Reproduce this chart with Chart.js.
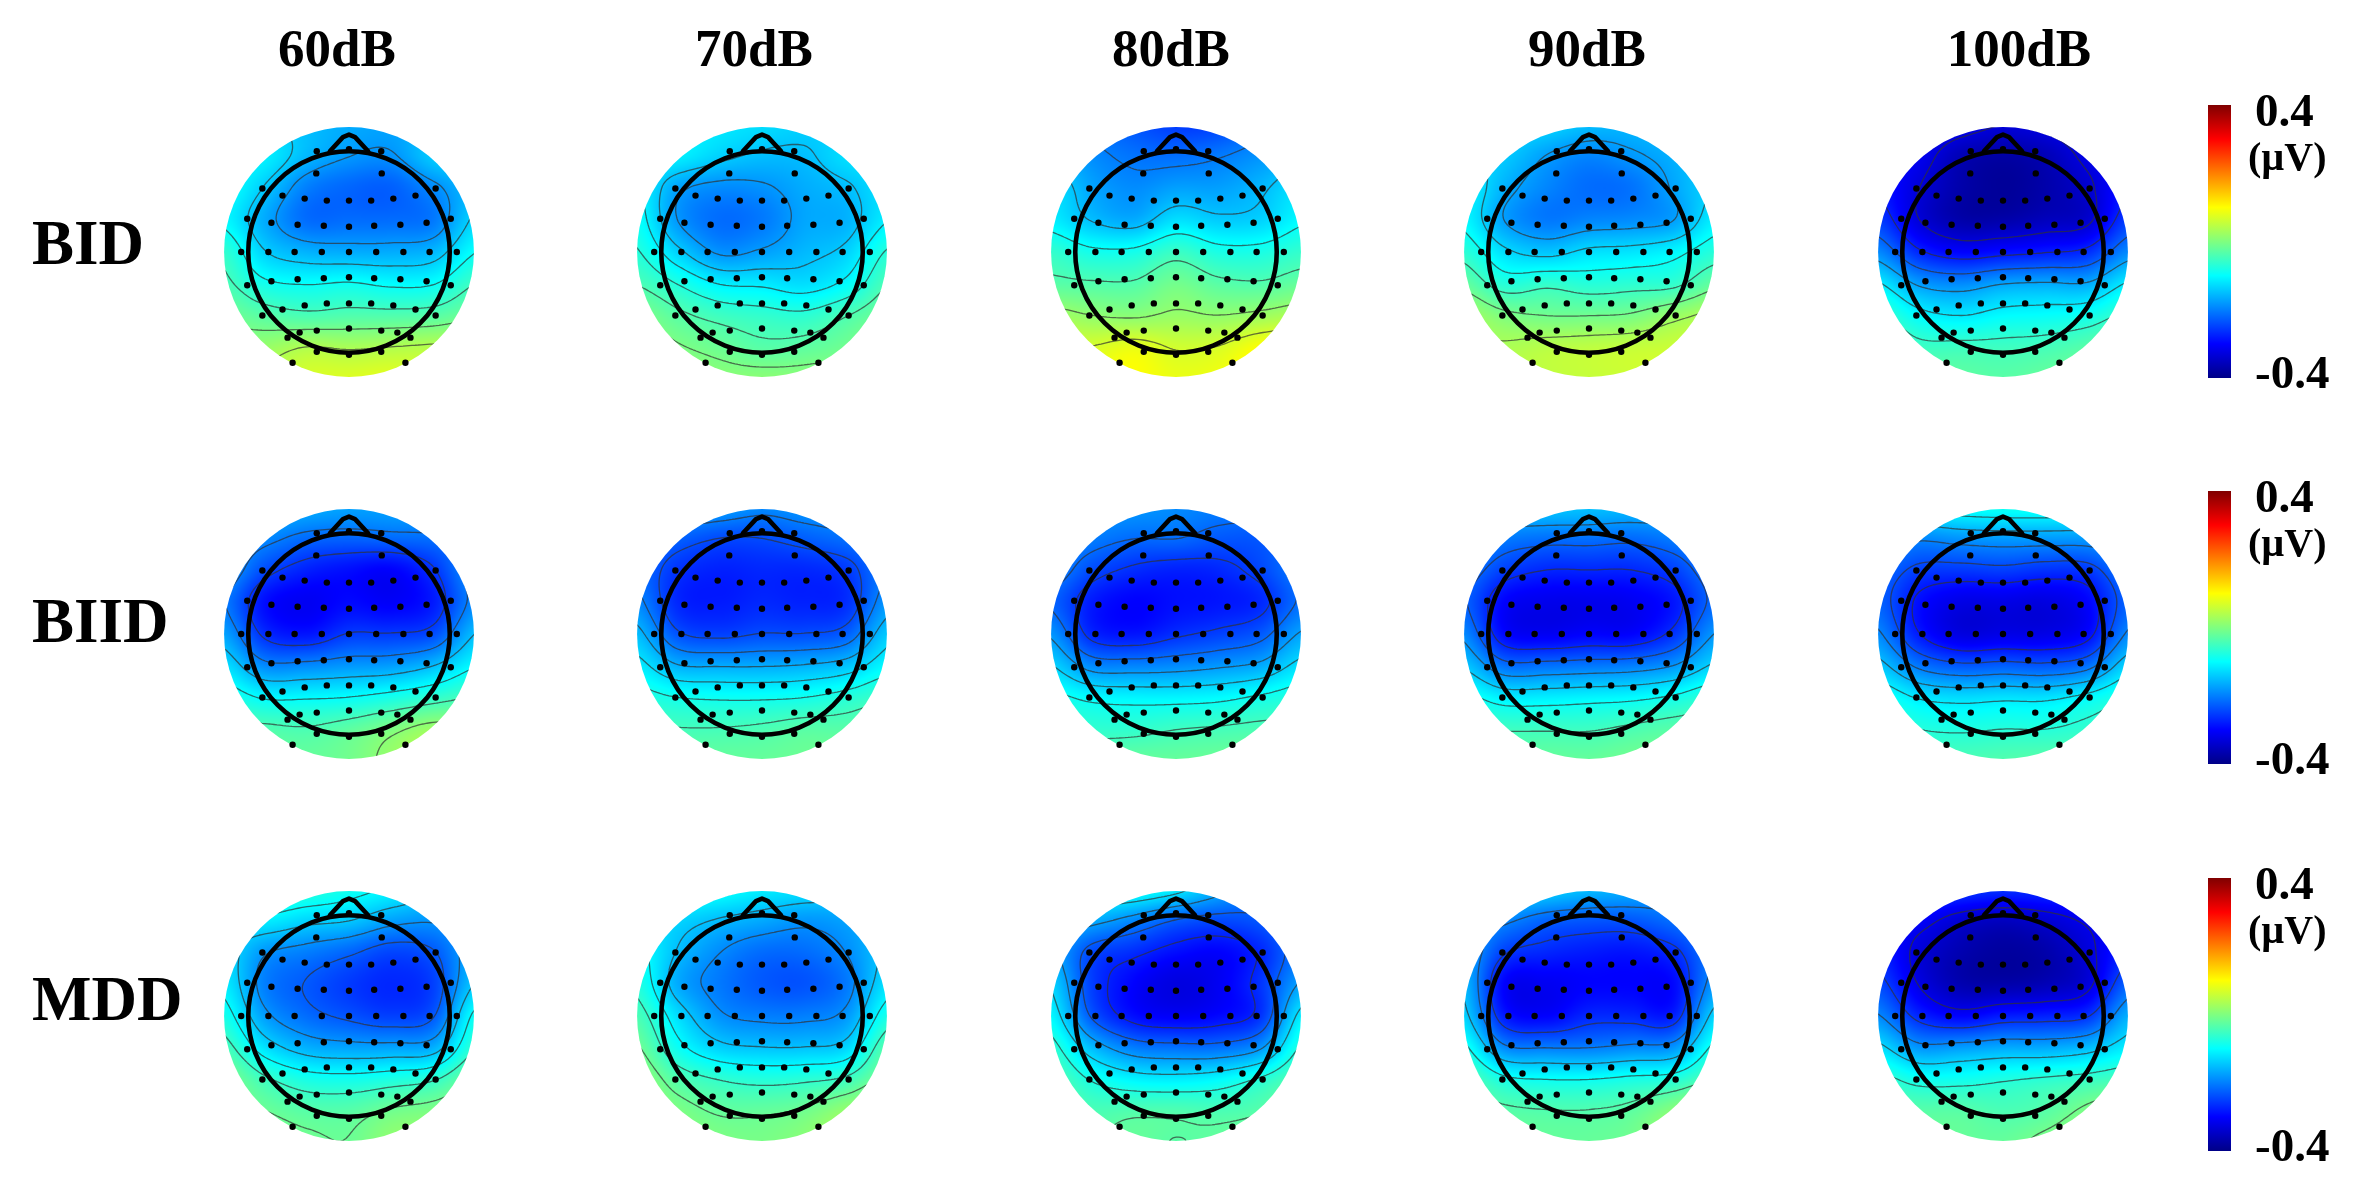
<!DOCTYPE html>
<html><head><meta charset="utf-8">
<style>
html,body{margin:0;padding:0;background:#fff;width:2370px;height:1200px;overflow:hidden}
#page{position:relative;width:2370px;height:1200px;font-family:"Liberation Serif",serif;font-weight:bold;color:#000}
.lab{position:absolute;line-height:1;white-space:nowrap;filter:blur(.6px)}
.c{position:absolute;filter:blur(.7px)}
</style>
<script src="https://cdn.jsdelivr.net/npm/chart.js@4"></script>
</head><body><div id="page"></div>
<script>
// ---------- labels ----------
const intensityLabels = ['60dB','70dB','80dB','90dB','100dB'];
const groupLabels = ['BID','BIID','MDD'];
const colorbarTicks = [-0.4, 0.4];
const colorbarUnit = '(µV)';
// ---------- grid of the field (µV). columns and rows in head radii ----------
const gridX = [-1.26,-0.84,-0.42,0,0.42,0.84,1.26];
const gridY = [1.28,0.96,0.64,0.32,0,-0.32,-0.64,-0.96,-1.28];
const bid60 = [
[-.12,-.13,-.15,-.165,-.17,-.16,-.14],
[-.10,-.11,-.155,-.18,-.185,-.14,-.12],
[-.09,-.14,-.20,-.22,-.225,-.19,-.15],
[-.10,-.165,-.215,-.215,-.215,-.205,-.13],
[-.06,-.135,-.16,-.165,-.165,-.155,-.095],
[-.04,-.085,-.095,-.09,-.10,-.095,-.05],
[-.01,-.03,-.04,-.035,-.035,-.03,-.01],
[.01,.02,.04,.035,.04,.045,.05],
[.05,.05,.07,.075,.08,.07,.07]];
const bid70 = [
[-.10,-.11,-.115,-.125,-.135,-.14,-.13],
[-.10,-.11,-.135,-.15,-.15,-.125,-.115],
[-.10,-.17,-.19,-.185,-.165,-.15,-.12],
[-.09,-.18,-.215,-.205,-.17,-.16,-.11],
[-.07,-.135,-.185,-.175,-.155,-.135,-.07],
[-.04,-.075,-.11,-.115,-.125,-.10,-.04],
[0,-.03,-.05,-.06,-.065,-.04,-.01],
[.02,0,-.015,-.03,-.025,-.01,.02],
[.02,.02,.01,.01,.01,.015,.03]];
const bid80 = [
[-.19,-.21,-.235,-.255,-.25,-.215,-.19],
[-.15,-.19,-.21,-.215,-.205,-.185,-.16],
[-.12,-.17,-.19,-.175,-.175,-.155,-.12],
[-.11,-.15,-.165,-.125,-.14,-.135,-.10],
[-.06,-.085,-.085,-.055,-.08,-.08,-.06],
[-.03,-.035,-.035,-.01,-.03,-.035,-.02],
[.03,.015,.01,.02,.015,.025,.04],
[.07,.07,.085,.065,.07,.10,.115],
[.09,.09,.10,.085,.09,.11,.12]];
const bid90 = [
[-.12,-.125,-.13,-.15,-.155,-.145,-.13],
[-.12,-.14,-.175,-.195,-.18,-.16,-.13],
[-.10,-.16,-.195,-.215,-.21,-.17,-.13],
[-.10,-.175,-.205,-.195,-.19,-.175,-.11],
[-.065,-.125,-.145,-.125,-.12,-.105,-.07],
[-.02,-.07,-.06,-.07,-.065,-.06,-.02],
[.03,0,-.01,-.01,-.005,.02,.04],
[.03,.035,.045,.05,.055,.06,.07],
[.03,.04,.05,.055,.06,.07,.07]];
const bid100 = [
[-.27,-.29,-.31,-.33,-.32,-.30,-.28],
[-.28,-.31,-.36,-.375,-.36,-.32,-.29],
[-.28,-.33,-.37,-.385,-.37,-.34,-.28],
[-.25,-.33,-.37,-.37,-.355,-.34,-.25],
[-.19,-.27,-.30,-.29,-.28,-.265,-.19],
[-.11,-.175,-.19,-.17,-.165,-.165,-.11],
[-.05,-.10,-.115,-.10,-.095,-.085,-.05],
[-.02,-.05,-.05,-.05,-.045,-.03,-.01],
[-.02,-.02,-.025,-.03,-.02,-.01,-.01]];
const biid60 = [
[-.14,-.15,-.16,-.17,-.17,-.16,-.15],
[-.17,-.19,-.215,-.22,-.215,-.21,-.19],
[-.17,-.24,-.275,-.29,-.30,-.26,-.18],
[-.20,-.29,-.31,-.295,-.305,-.28,-.19],
[-.17,-.265,-.285,-.255,-.255,-.24,-.15],
[-.12,-.19,-.19,-.18,-.175,-.15,-.10],
[-.07,-.10,-.10,-.095,-.08,-.06,-.04],
[-.03,-.035,-.04,-.025,0,.025,.02],
[-.02,-.02,-.02,-.01,.02,.05,.06]];
const biid70 = [
[-.17,-.16,-.17,-.19,-.18,-.17,-.16],
[-.19,-.22,-.24,-.24,-.225,-.21,-.19],
[-.21,-.26,-.275,-.27,-.27,-.255,-.20],
[-.19,-.27,-.28,-.27,-.275,-.265,-.18],
[-.15,-.235,-.25,-.24,-.24,-.225,-.14],
[-.11,-.16,-.165,-.165,-.16,-.145,-.10],
[-.07,-.085,-.09,-.09,-.085,-.07,-.05],
[-.04,-.045,-.045,-.04,-.03,-.03,-.02],
[-.03,-.02,-.02,-.02,-.015,-.01,-.01]];
const biid80 = [
[-.18,-.18,-.18,-.19,-.20,-.20,-.19],
[-.18,-.20,-.215,-.215,-.23,-.23,-.20],
[-.19,-.24,-.265,-.275,-.27,-.245,-.20],
[-.22,-.28,-.30,-.29,-.285,-.27,-.21],
[-.18,-.27,-.285,-.265,-.25,-.23,-.17],
[-.13,-.19,-.195,-.19,-.18,-.165,-.12],
[-.08,-.10,-.105,-.105,-.10,-.085,-.07],
[-.05,-.06,-.06,-.05,-.045,-.04,-.04],
[-.03,-.03,-.02,-.02,-.015,-.01,-.01]];
const biid90 = [
[-.14,-.14,-.14,-.145,-.15,-.15,-.14],
[-.17,-.20,-.21,-.21,-.215,-.20,-.17],
[-.20,-.25,-.27,-.27,-.27,-.25,-.20],
[-.22,-.30,-.315,-.315,-.31,-.285,-.215],
[-.19,-.295,-.31,-.30,-.30,-.26,-.18],
[-.14,-.21,-.21,-.205,-.20,-.18,-.13],
[-.08,-.11,-.11,-.105,-.10,-.085,-.06],
[-.05,-.05,-.05,-.05,-.04,-.03,-.03],
[-.03,-.03,-.02,-.02,-.01,-.005,-.005]];
const biid100 = [
[-.10,-.10,-.09,-.085,-.085,-.09,-.10],
[-.17,-.19,-.18,-.175,-.175,-.175,-.16],
[-.21,-.25,-.255,-.25,-.26,-.255,-.20],
[-.22,-.29,-.32,-.32,-.325,-.30,-.22],
[-.19,-.28,-.325,-.32,-.32,-.295,-.19],
[-.14,-.205,-.23,-.225,-.23,-.21,-.13],
[-.08,-.115,-.125,-.12,-.12,-.10,-.07],
[-.05,-.07,-.075,-.07,-.07,-.06,-.05],
[-.03,-.04,-.04,-.035,-.03,-.03,-.03]];
const mdd60 = [
[-.07,-.06,-.065,-.085,-.105,-.13,-.12],
[-.12,-.11,-.13,-.14,-.17,-.18,-.16],
[-.12,-.18,-.20,-.22,-.245,-.23,-.16],
[-.11,-.20,-.23,-.255,-.27,-.25,-.14],
[-.08,-.175,-.215,-.235,-.25,-.23,-.09],
[-.04,-.12,-.16,-.17,-.17,-.16,-.06],
[0,-.05,-.08,-.085,-.075,-.06,-.01],
[0,-.015,-.03,-.03,-.01,0,.015],
[0,0,-.01,-.015,.015,.02,.025]];
const mdd70 = [
[-.09,-.08,-.09,-.11,-.12,-.13,-.12],
[-.11,-.13,-.15,-.165,-.18,-.17,-.14],
[-.09,-.15,-.19,-.215,-.215,-.19,-.14],
[-.07,-.165,-.205,-.23,-.235,-.205,-.12],
[-.04,-.125,-.185,-.20,-.20,-.18,-.08],
[-.01,-.09,-.135,-.145,-.145,-.13,-.03],
[.02,-.035,-.06,-.07,-.065,-.05,0],
[.03,0,-.02,-.02,-.01,.02,.05],
[.03,.01,0,-.005,.01,.04,.07]];
const mdd80 = [
[-.09,-.08,-.085,-.11,-.16,-.20,-.19],
[-.14,-.16,-.19,-.225,-.24,-.23,-.19],
[-.16,-.24,-.265,-.29,-.30,-.27,-.20],
[-.13,-.25,-.30,-.325,-.31,-.26,-.17],
[-.10,-.23,-.29,-.305,-.295,-.26,-.11],
[-.06,-.15,-.20,-.21,-.21,-.18,-.07],
[-.03,-.08,-.105,-.11,-.10,-.07,-.03],
[-.02,-.04,-.035,-.035,-.04,-.03,0],
[-.02,-.03,-.02,-.03,-.02,0,.02]];
const mdd90 = [
[-.12,-.12,-.13,-.15,-.16,-.17,-.16],
[-.16,-.19,-.22,-.23,-.23,-.21,-.18],
[-.16,-.25,-.27,-.28,-.285,-.265,-.20],
[-.15,-.30,-.31,-.30,-.30,-.295,-.18],
[-.13,-.28,-.30,-.27,-.27,-.275,-.13],
[-.08,-.19,-.20,-.20,-.19,-.18,-.08],
[-.03,-.08,-.09,-.09,-.08,-.07,-.03],
[-.02,-.03,-.035,-.035,-.025,.01,.05],
[-.02,-.02,-.02,-.02,-.01,.03,.07]];
const mdd100 = [
[-.25,-.24,-.25,-.26,-.26,-.25,-.24],
[-.28,-.30,-.335,-.35,-.335,-.31,-.28],
[-.27,-.33,-.365,-.38,-.37,-.33,-.27],
[-.24,-.32,-.365,-.37,-.36,-.33,-.22],
[-.19,-.27,-.30,-.28,-.275,-.26,-.16],
[-.12,-.18,-.175,-.165,-.165,-.15,-.11],
[-.055,-.085,-.085,-.075,-.065,-.055,-.04],
[-.03,-.03,-.03,-.04,-.03,0,.03],
[-.02,-.02,-.02,-.02,0,.02,.05]];
const fields = [
  [bid60,bid70,bid80,bid90,bid100],
  [biid60,biid70,biid80,biid90,biid100],
  [mdd60,mdd70,mdd80,mdd90,mdd100]];
// ---------- electrode sites, in head radii ----------
const electrodeX = [-.32,0,.32,-.325,.325,-.86,.86,-.66,-.44,-.22,0,.22,.44,.66,-1.01,1.01,-.77,-.51,-.25,0,.25,.51,.77,
 -1.07,-.80,-.54,-.27,0,.27,.54,.80,1.07,-.77,-.51,-.25,0,.25,.51,.77,-1.01,1.01,-.66,-.44,-.22,0,.22,.44,.66,-.86,.86,
 -.32,0,.32,-.49,.48,-.61,.61,-.32,0,.32,-.56,.56];
const electrodeY = [1.0,1.02,1.0,.78,.78,.63,.63,.56,.53,.51,.51,.51,.53,.56,.33,.33,.29,.27,.26,.25,.26,.27,.29,
 0,0,0,0,0,0,0,0,0,-.29,-.27,-.26,-.25,-.26,-.27,-.29,-.33,-.33,-.57,-.53,-.51,-.51,-.51,-.53,-.57,-.63,-.63,
 -.78,-.76,-.78,-.80,-.80,-.85,-.85,-.99,-1.02,-.99,-1.10,-1.10];
const noseX = [-.19,-.06,0,.06,.19];
const noseY = [1.0,1.14,1.165,1.14,1.0];
const jetStops = [[0,0,0,135],[.125,0,0,255],[.375,0,255,255],[.625,255,255,0],[.875,255,0,0],[1,128,0,0]];
// ---------- page placement ----------
const colCenters = [348.5,762,1175.5,1589,2003];
const rowCenters = [252.3,634,1016];
const titleCenters = [337,754,1171,1587,2019];
const rowLabelY = [242.5,621,999];
const barTops = [105,491,878];
const BOX = 270, SPAN = 1.34, DISC = 1.24, LO = -0.4, HI = 0.4;

const page = document.getElementById('page');
function label(t,x,y,size,anchor){
  const d=document.createElement('div');d.className='lab';d.textContent=t;
  d.style.cssText+=`left:${x}px;top:${y}px;font-size:${size}px;transform:translate(${anchor?'0':'-50%'},-50%)`;
  page.appendChild(d);
}
function jet(v){
  const t=Math.max(0,Math.min(1,(v-LO)/(HI-LO)));
  for(let i=1;i<jetStops.length;i++){
    const a=jetStops[i-1],b=jetStops[i];
    if(t<=b[0]){const f=(t-a[0])/(b[0]-a[0]);return [a[1]+f*(b[1]-a[1]),a[2]+f*(b[2]-a[2]),a[3]+f*(b[3]-a[3])];}
  }
  return jetStops[jetStops.length-1].slice(1);
}
function cr(p0,p1,p2,p3,t){return .5*(2*p1+(p2-p0)*t+(2*p0-5*p1+4*p2-p3)*t*t+(3*p1-p0-3*p2+p3)*t*t*t);}
function idx(arr,v){
  const s=(v-arr[0])/(arr[1]-arr[0]);
  return Math.max(0,Math.min(arr.length-1,s));
}
function sample(grid,x,y){
  const fx=idx(gridX,x),fy=idx(gridY,y);
  const ix=Math.min(gridX.length-2,Math.floor(fx)),iy=Math.min(gridY.length-2,Math.floor(fy));
  const tx=fx-ix,ty=fy-iy,row=[];
  for(let j=-1;j<3;j++){
    const r=grid[Math.max(0,Math.min(gridY.length-1,iy+j))];
    row.push(cr(r[Math.max(0,ix-1)],r[ix],r[ix+1],r[Math.min(gridX.length-1,ix+2)],tx));
  }
  return cr(row[0],row[1],row[2],row[3],ty);
}
const topoPlugin = {
  id:'topo',
  beforeDatasetsDraw(chart,args,opts){
    const {ctx,scales:{x,y}}=chart,grid=opts.grid;
    const px0=x.getPixelForValue(0),py0=y.getPixelForValue(0);
    const unit=x.getPixelForValue(1)-px0;
    const W=chart.width,H=chart.height;
    const off=document.createElement('canvas');off.width=W;off.height=H;
    const oc=off.getContext('2d'),img=oc.createImageData(W,H);
    for(let j=0;j<H;j++)for(let i=0;i<W;i++){
      const c=jet(sample(grid,x.getValueForPixel(i+.5),y.getValueForPixel(j+.5))),k=(j*W+i)*4;
      img.data[k]=c[0];img.data[k+1]=c[1];img.data[k+2]=c[2];img.data[k+3]=255;
    }
    oc.putImageData(img,0,0);
    ctx.save();
    ctx.beginPath();ctx.arc(px0,py0,DISC*unit,0,Math.PI*2);ctx.clip();
    ctx.drawImage(off,0,0);
    const flat=grid.flat(),mn=Math.min(...flat),mx=Math.max(...flat);
    const STEP=3,nx=Math.floor(W/STEP),ny=Math.floor(H/STEP),val=[];
    for(let j=0;j<=ny;j++){val.push([]);for(let i=0;i<=nx;i++)val[j].push(sample(grid,x.getValueForPixel(i*STEP),y.getValueForPixel(j*STEP)));}
    ctx.beginPath();
    for(let l=1;l<=6;l++){
      const L=mn+(mx-mn)*l/7;
      for(let j=0;j<ny;j++)for(let i=0;i<nx;i++){
        const a=val[j][i],b=val[j][i+1],c=val[j+1][i+1],d=val[j+1][i],pts=[];
        const X=i*STEP,Y=j*STEP;
        if((a<L)!==(b<L))pts.push([X+STEP*(L-a)/(b-a),Y]);
        if((b<L)!==(c<L))pts.push([X+STEP,Y+STEP*(L-b)/(c-b)]);
        if((d<L)!==(c<L))pts.push([X+STEP*(L-d)/(c-d),Y+STEP]);
        if((a<L)!==(d<L))pts.push([X,Y+STEP*(L-a)/(d-a)]);
        for(let p=0;p+1<pts.length;p+=2){ctx.moveTo(pts[p][0],pts[p][1]);ctx.lineTo(pts[p+1][0],pts[p+1][1]);}
      }
    }
    ctx.strokeStyle='rgba(50,50,50,.7)';ctx.lineWidth=1.3;ctx.stroke();
    ctx.restore();
    ctx.beginPath();ctx.arc(px0,py0,unit,0,Math.PI*2);
    ctx.strokeStyle='#000';ctx.lineWidth=4.6;ctx.stroke();
  }
};
const electrodes = electrodeX.map((v,i)=>({x:v,y:electrodeY[i]}));
const nose = noseX.map((v,i)=>({x:v,y:noseY[i]}));
function topomap(row,col){
  const cv=document.createElement('canvas');cv.className='c';
  cv.style.left=(colCenters[col]-BOX/2)+'px';cv.style.top=(rowCenters[row]-BOX/2)+'px';
  cv.style.width=BOX+'px';cv.style.height=BOX+'px';
  cv.width=BOX;cv.height=BOX;page.appendChild(cv);
  new Chart(cv,{
    type:'scatter',
    data:{datasets:[
      {label:'head',data:nose,showLine:true,borderColor:'#000',borderWidth:4.6,pointRadius:0,borderJoinStyle:'round',borderCapStyle:'round'},
      {label:'electrodes',data:electrodes,pointRadius:3.2,pointBackgroundColor:'#000',pointBorderWidth:0}
    ]},
    options:{responsive:false,animation:false,devicePixelRatio:1,layout:{padding:0,autoPadding:false},
      scales:{x:{type:'linear',display:false,min:-SPAN,max:SPAN},y:{type:'linear',display:false,min:-SPAN,max:SPAN}},
      plugins:{legend:{display:false},tooltip:{enabled:false},title:{display:false},topo:{grid:fields[row][col]}}},
    plugins:[topoPlugin]
  });
}
function colorbar(top){
  const cv=document.createElement('canvas');cv.className='c';
  const PAD=30,W=135,H=273+2*PAD;
  cv.style.left='2208px';cv.style.top=(top-PAD)+'px';cv.style.width=W+'px';cv.style.height=H+'px';
  cv.width=W;cv.height=H;page.appendChild(cv);
  new Chart(cv,{
    type:'bar',
    data:{labels:['µV'],datasets:[{data:[colorbarTicks],barPercentage:1,categoryPercentage:1,borderWidth:0,
      backgroundColor(c){
        const a=c.chart.chartArea;if(!a)return '#000';
        const g=c.chart.ctx.createLinearGradient(0,a.bottom,0,a.top);
        jetStops.forEach(s=>g.addColorStop(s[0],`rgb(${s[1]},${s[2]},${s[3]})`));
        return g;
      }}]},
    options:{responsive:false,animation:false,devicePixelRatio:1,layout:{padding:{top:PAD,bottom:PAD,left:0,right:0},autoPadding:false},
      scales:{x:{display:false},
        y:{position:'right',min:LO,max:HI,border:{display:false},grid:{display:false,drawTicks:false},
          afterBuildTicks(s){
            s.ticks=colorbarTicks.map(v=>({value:v}));
            s.getPixelForTick=i=>s.getPixelForValue(s.ticks[i].value)+(s.ticks[i].value>0?9:-2);
          },
          afterFit(s){s.width=W-23;s.paddingTop=0;s.paddingBottom=0;},
          ticks:{autoSkip:false,padding:24,color:'#000',font:{family:'Liberation Serif',weight:'bold',size:47},callback:v=>v.toFixed(1)}}},
      plugins:{legend:{display:false},tooltip:{enabled:false}}}
  });
}
rowCenters.forEach((_,r)=>colCenters.forEach((_,c)=>topomap(r,c)));
barTops.forEach(colorbar);
intensityLabels.forEach((t,i)=>label(t,titleCenters[i],48,53));
groupLabels.forEach((t,i)=>label(t,32,rowLabelY[i],63,true));
barTops.forEach(t=>label(colorbarUnit,2248,t+52,40,true));
</script></body></html>
